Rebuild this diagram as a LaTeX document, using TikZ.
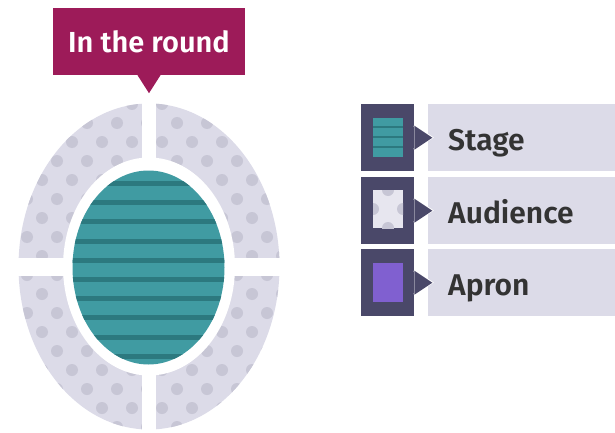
\documentclass[tikz,border=0pt]{standalone}
\usepackage{fontspec}
\setmainfont{Fira Sans}[BoldFont={Fira Sans SemiBold}]
\usepackage{xcolor}
\usetikzlibrary{positioning}

\definecolor{calloutred}{RGB}{157,27,89}
\definecolor{seatgray}{RGB}{220,219,232}
\definecolor{dotgray}{RGB}{199,198,213}
\definecolor{stageteal}{RGB}{64,155,162}
\definecolor{stagedark}{RGB}{44,121,127}
\definecolor{keydark}{RGB}{74,72,105}
\definecolor{apronpurple}{RGB}{128,96,208}
\definecolor{labeltext}{RGB}{51,51,51}

\begin{document}
\begin{tikzpicture}[
      x=1pt, y=-1pt,
      callout/.style={fill=calloutred, text=white, inner sep=0pt,
        minimum width=192pt, minimum height=67pt,
        font=\fontsize{29}{30}\selectfont\bfseries},
      keybox/.style={fill=keydark, inner sep=0pt, minimum width=53pt, minimum height=67pt},
      keybar/.style={fill=seatgray, inner sep=0pt, minimum width=187pt, minimum height=67pt},
      keylabel/.style={text=labeltext, inner sep=0pt,
        font=\fontsize{30}{31}\selectfont\bfseries}
    ]
      \useasboundingbox (0,0) rectangle (615,433);

      % title with its pointer
      \node[callout] (title) at (149,41.5) {In the round};
      \fill[calloutred] (title.south) ++(-11.5,0) -- ++(11.5,18) -- ++(11.5,-18) -- cycle;

      % audience ring, dotted
      \fill[seatgray] (149,266.5) ellipse [x radius=130.5, y radius=163];
      \begin{scope}
        \clip (149,266.5) ellipse [x radius=130.5, y radius=163];
        \foreach \row in {0,...,17}
          \foreach \col in {0,...,9}
            \fill[dotgray] ({12+30*\col+15*mod(\row,2)}, {104+19*\row}) circle (6);
      \end{scope}
      \fill[white] (149,266.5) ellipse [x radius=86, y radius=109];
      \fill[white] (142,100) rectangle (156,433);
      \fill[white] (15,258) rectangle (283,276);

      % stage
      \begin{scope}
        \clip (148.5,267.5) ellipse [x radius=76, y radius=97];
        \fill[stageteal] (70,168) rectangle (228,367);
        \foreach \k in {0,...,9}
          \fill[stagedark] (70,{181+19.2*\k}) rectangle (228,{186+19.2*\k});
      \end{scope}

      % legend rows
      \foreach \top/\txt/\name in {104/Stage/stage, 177/Audience/audience, 249/Apron/apron} {
        \node[keybar, anchor=north west] (bar-\name) at (428,\top) {};
        \node[keybox, anchor=north west] (key-\name) at (361,\top) {};
        \draw[white, line width=2pt] (414,\top+21.5) -- (432,\top+33.5) -- (414,\top+45.5);
        \fill[keydark] (key-\name.east) ++(0,-12) -- ++(18,12) -- ++(-18,12) -- cycle;
        \node[keylabel, anchor=base west] (lbl-\name) at (448,\top+46) {\txt};
      }

      % legend swatches
      \fill[stageteal] (373,118) rectangle (403,157);
      \foreach \s in {127,137,147}
        \fill[stagedark] (373,\s-1.3) rectangle (403,\s+1.3);
      \begin{scope}
        \clip (373,190) rectangle (403,228);
        \fill[seatgray!70!white] (373,190) rectangle (403,228);
        \foreach \p in {(373,209),(403,209),(388,190),(388,228)}
          \fill[dotgray] \p circle (6);
      \end{scope}
      \fill[apronpurple] (373,263) rectangle (403,302);
    \end{tikzpicture}
\end{document}
